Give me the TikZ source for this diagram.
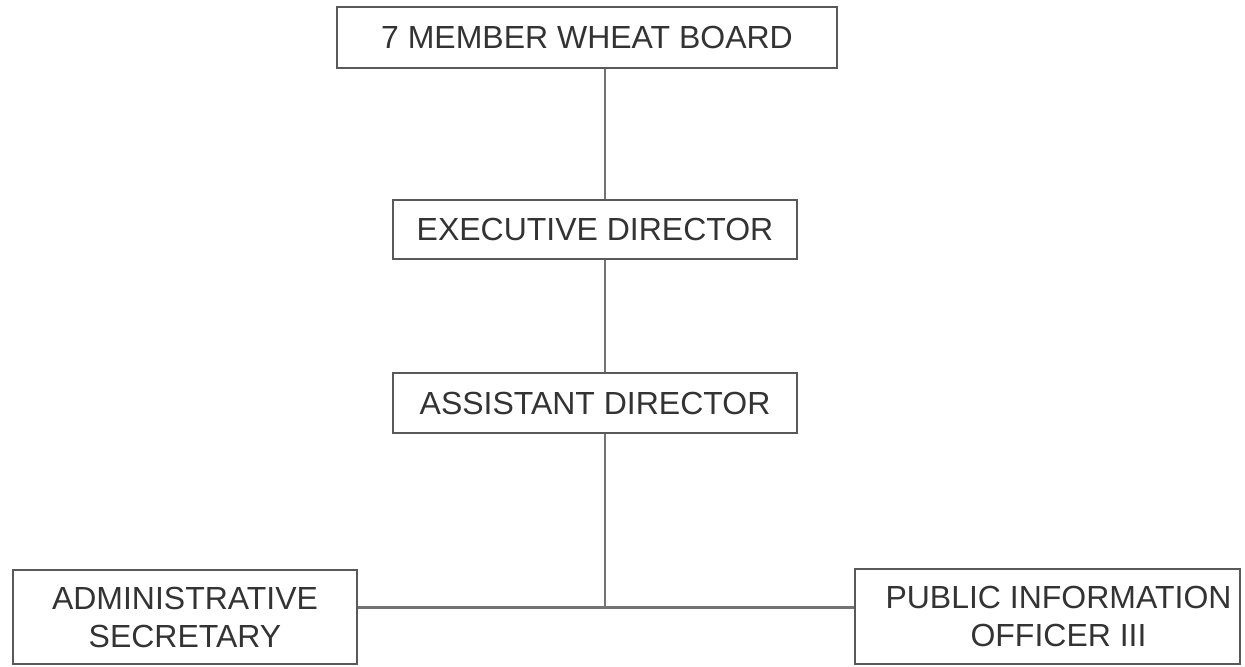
\documentclass[tikz,border=0pt]{standalone}
\usepackage{fontspec}
\setmainfont{Liberation Sans}
\usetikzlibrary{positioning,calc}

\tikzset{
  post/.style={draw=black!65, line width=0.6pt, inner sep=0pt, align=center,
    text=black!80, font=\fontsize{9.1}{10.8}\selectfont},
  link/.style={draw=black!55, line width=0.6pt}
}

\begin{document}
\begin{tikzpicture}
    \useasboundingbox (0,0) rectangle (12.45,-6.66);

    \node [post, minimum width=5cm, minimum height=0.61cm](board) at (5.87,-0.375) {7 MEMBER WHEAT BOARD};
    \node [post, minimum width=4.04cm, minimum height=0.59cm](exec) at (5.95,-2.295) {EXECUTIVE DIRECTOR};
    \node [post, minimum width=4.04cm, minimum height=0.6cm](asst) at (5.95,-4.03) {ASSISTANT DIRECTOR};
    \node [post, minimum width=3.44cm, minimum height=0.94cm](admin) at (1.85,-6.17) {ADMINISTRATIVE\\SECRETARY};
    \node [post, minimum width=3.85cm, minimum height=0.95cm](pio) at (10.475,-6.165) {\hspace*{0.22cm}PUBLIC INFORMATION\\\hspace*{0.22cm}OFFICER III};
    \coordinate (hub) at (6.05,-6.075);

    \draw[link] (board.south -| hub) -- (exec.north -| hub);
    \draw[link] (exec.south -| hub) -- (asst.north -| hub);
    \draw[link] (asst.south -| hub) -- (hub);
    \draw[link] (admin.east |- hub) -- (pio.west |- hub);
\end{tikzpicture}
\end{document}
